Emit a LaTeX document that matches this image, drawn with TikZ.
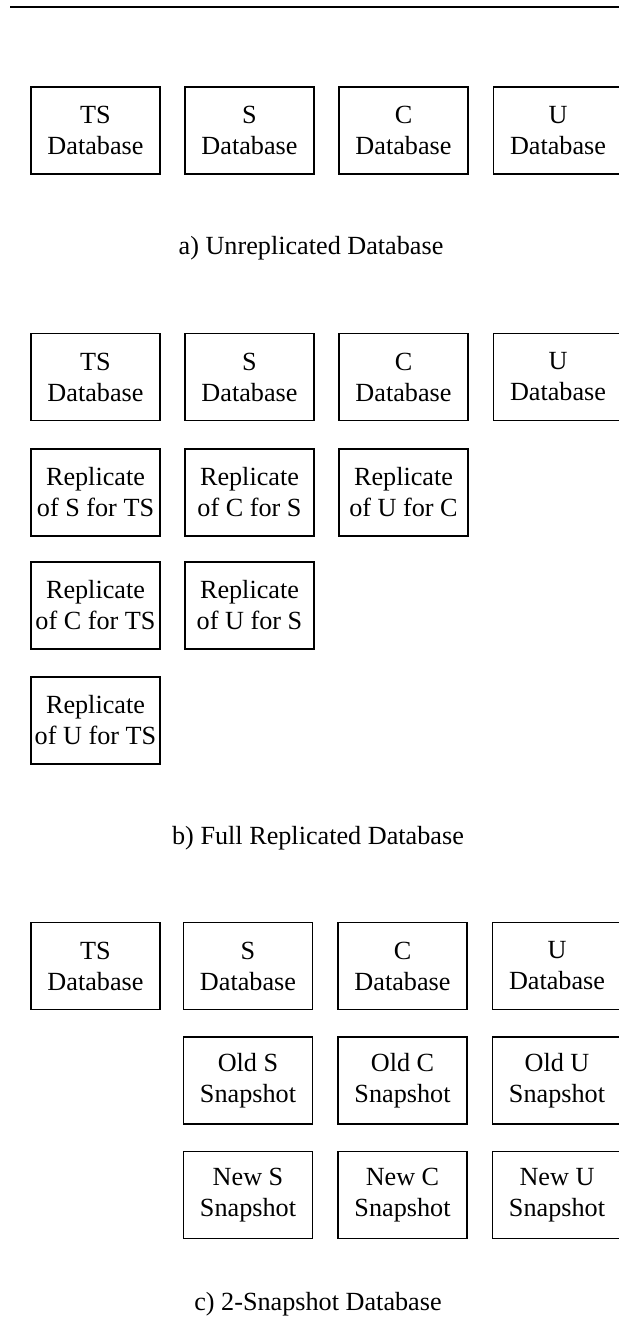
\documentclass[tikz,border=0pt]{standalone}
\usepackage{fontspec}
\setmainfont{Liberation Serif}
\begin{document}
\begin{tikzpicture}[x=0.5pt,y=-0.5pt,
  dbbox/.style={draw, line width=0.9pt, minimum width=64.5pt, minimum height=43.5pt,
    inner sep=0pt, align=center, font=\fontsize{13.1}{15.5}\selectfont},
  caption/.style={font=\fontsize{13.1}{15.5}\selectfont, inner sep=0pt}]
\useasboundingbox (0,0) rectangle (619,1321);
\clip (0,0) rectangle (619,1321);
% rule across the top
\coordinate (ruleL) at (10,7);
\coordinate (ruleR) at (619,7);
\draw[line width=1.4pt] (ruleL) -- (ruleR);

% a) unreplicated
\node[dbbox] (aTS) at (95.5,130.5) {TS\\Database};
\node[dbbox] (aS)  at (249.5,130.5) {S\\Database};
\node[dbbox] (aC)  at (403.5,130.5) {C\\Database};
\node[dbbox] (aU)  at (558,130.5) {U\\Database};
\node[caption] (capA) at (311,248) {a) Unreplicated Database};

% b) full replication
\node[dbbox] (bTS) at (95.5,377) {TS\\Database};
\node[dbbox] (bS)  at (249.5,377) {S\\Database};
\node[dbbox] (bC)  at (403.5,377) {C\\Database};
\node[dbbox] (bU)  at (558,377) {U\\Database};
\node[dbbox] (bSTS) at (95.5,492.5) {Replicate\\of S for TS};
\node[dbbox] (bCS)  at (249.5,492.5) {Replicate\\of C for S};
\node[dbbox] (bUC)  at (403.5,492.5) {Replicate\\of U for C};
\node[dbbox] (bCTS) at (95.5,605.5) {Replicate\\of C for TS};
\node[dbbox] (bUS)  at (249.5,605.5) {Replicate\\of U for S};
\node[dbbox] (bUTS) at (95.5,720.5) {Replicate\\of U for TS};
\node[caption] (capB) at (318,838) {b) Full Replicated Database};

% c) two snapshots
\node[dbbox] (cTS) at (95.5,966) {TS\\Database};
\node[dbbox] (cS)  at (248,966) {S\\Database};
\node[dbbox] (cC)  at (402.5,966) {C\\Database};
\node[dbbox] (cU)  at (557,966) {U\\Database};
\node[dbbox] (cOS) at (248,1080.5) {Old S\\Snapshot};
\node[dbbox] (cOC) at (402.5,1080.5) {Old C\\Snapshot};
\node[dbbox] (cOU) at (557,1080.5) {Old U\\Snapshot};
\node[dbbox] (cNS) at (248,1195) {New S\\Snapshot};
\node[dbbox] (cNC) at (402.5,1195) {New C\\Snapshot};
\node[dbbox] (cNU) at (557,1195) {New U\\Snapshot};
\node[caption] (capC) at (318,1304) {c) 2-Snapshot Database};
\end{tikzpicture}
\end{document}
